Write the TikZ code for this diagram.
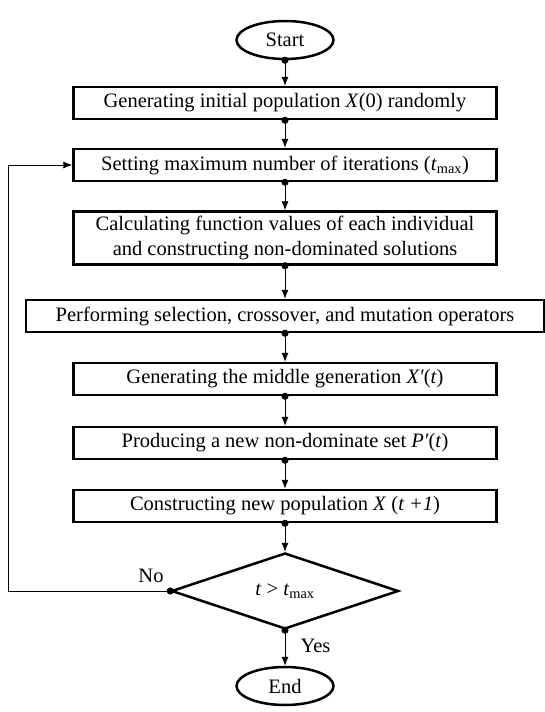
\documentclass[tikz,border=0pt]{standalone}
\usepackage{fontspec}
\setmainfont{Liberation Serif}
\usetikzlibrary{shapes.geometric,arrows.meta}
\newcommand{\tmaxsym}{\textit{t}\textsubscript{max}}
\newcommand{\primesym}{{\char"2032}}

\begin{document}
\begin{tikzpicture}[x=1pt, y=-1pt, font=\fontsize{20.5}{24.5}\selectfont,
  term/.style={draw, ellipse, line width=2.5pt, minimum width=97pt, minimum height=38pt, inner sep=0pt},
  box/.style={draw, rectangle, line width=2.5pt, minimum width=423pt, minimum height=32pt, inner sep=0pt, align=center},
  test/.style={draw, diamond, line width=2.5pt, minimum width=227pt, minimum height=76pt, inner sep=0pt, aspect=3},
  flow/.style={{Circle[length=7pt]}-{Latex[length=9pt,width=7pt]}, line width=0.8pt, shorten <=-3.5pt}]
\useasboundingbox (0,0) rectangle (545,712);

\node[term](S) at (285,40){Start};
\node[box](B1) at (285,103){Generating initial population \textit{X}(0) randomly};
\node[box](B2) at (285,165){Setting maximum number of iterations (\tmaxsym)};
\node[box, minimum height=53pt](B3) at (285,238){Calculating function values of each individual\\and constructing non-dominated solutions};
\node[box, minimum width=518pt](B4) at (285,316){Performing selection, crossover, and mutation operators};
\node[box](B5) at (285,379){Generating the middle generation \textit{X\primesym}(\textit{t})};
\node[box](B6) at (285,443){Producing a new non-dominate set \textit{P\primesym}(\textit{t})};
\node[box](B7) at (285,506){Constructing new population \textit{X} (\textit{t +1})};
\node[test](D) at (285,591){\textit{t} > \tmaxsym};
\node[term](E) at (285,686){End};
\node(N) at (151,576){No};
\node[anchor=west](Y) at (297,646){Yes};
\coordinate(L1) at (8,591);
\coordinate(L2) at (8,165);

\draw[flow](S) -- (B1);
\draw[flow](B1) -- (B2);
\draw[flow](B2) -- (B3);
\draw[flow](B3) -- (B4);
\draw[flow](B4) -- (B5);
\draw[flow](B5) -- (B6);
\draw[flow](B6) -- (B7);
\draw[flow](B7) -- (D);
\draw[flow](D) -- (E);
\draw[flow](D.west) -- (L1) -- (L2) -- (B2.west);
\end{tikzpicture}
\end{document}
